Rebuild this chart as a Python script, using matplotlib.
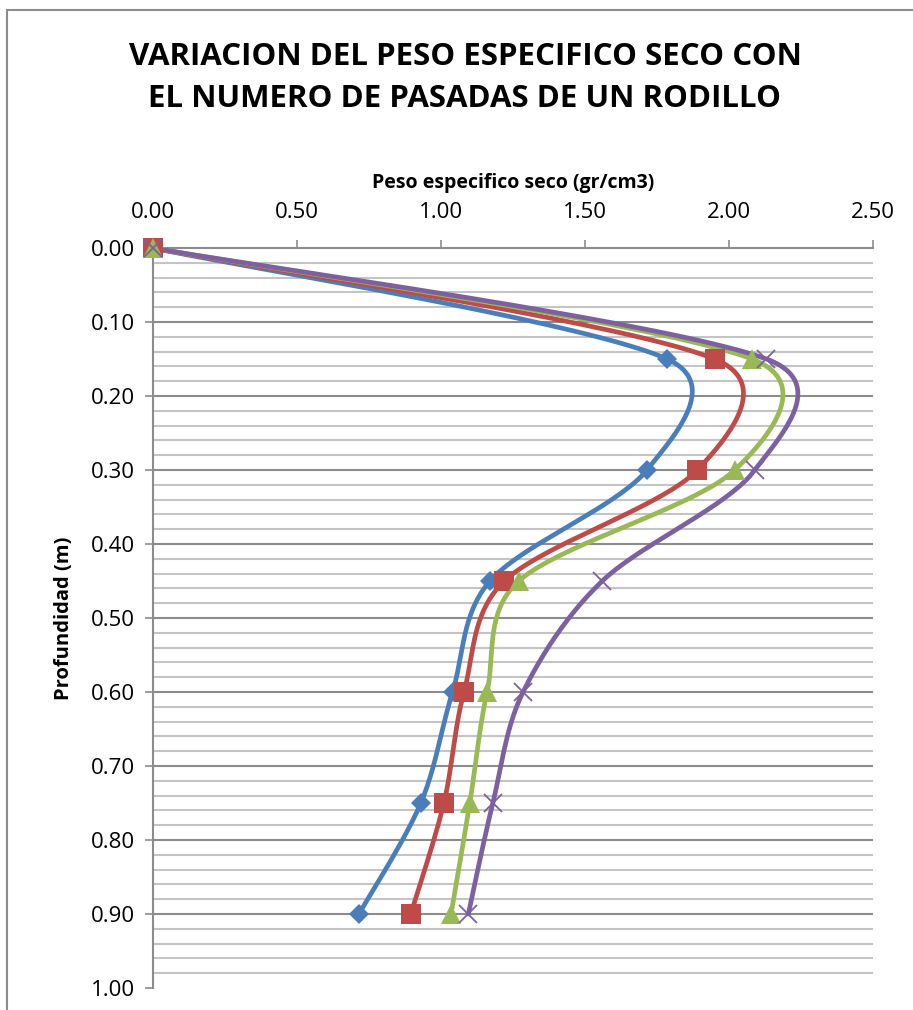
import numpy as np
import matplotlib.pyplot as plt
import matplotlib.patches as patches

# depth (m) and dry unit weight (gr/cm3) per series
profundidad = [0.00, 0.15, 0.30, 0.45, 0.60, 0.75, 0.90]
serie_1 = [0.00, 1.785, 1.715, 1.17, 1.04, 0.93, 0.715]
serie_2 = [0.00, 1.95, 1.89, 1.22, 1.08, 1.01, 0.895]
serie_3 = [0.00, 2.08, 2.02, 1.27, 1.16, 1.10, 1.035]
serie_4 = [0.00, 2.13, 2.09, 1.56, 1.285, 1.18, 1.095]

x_ticks = [0.0, 0.5, 1.0, 1.5, 2.0, 2.5]
y_ticks = [0.0, 0.1, 0.2, 0.3, 0.4, 0.5, 0.6, 0.7, 0.8, 0.9, 1.0]

colores = ['#4A7EBB', '#BE4B48', '#98B954', '#7D60A0']
marcadores = ['D', 's', '^', 'x']
tamanos = [10, 14, 14, 13]

plt.rcParams['font.family'] = ['Open Sans', 'DejaVu Sans']

W, H = 913, 1010
fig = plt.figure(figsize=(W / 100, H / 100), dpi=100)
L, R, T, B = 153, 873, 248, 988
ax = fig.add_axes([L / W, 1 - B / H, (R - L) / W, (B - T) / H])

sx = (R - L) / 2.5
sy = (B - T) / 1.0


def suavizar(xs, ys, n=40):
    # bezier smoothing in pixel space, tangents partly weighted by segment length
    p = np.column_stack([np.array(xs) * sx, np.array(ys) * sy])
    out = []
    for i in range(len(p) - 1):
        p0 = p[i - 1] if i > 0 else p[i]
        p1 = p[i]
        p2 = p[i + 1]
        p3 = p[i + 2] if i + 2 < len(p) else p[i + 1]
        d01 = np.hypot(*(p1 - p0))
        d12 = np.hypot(*(p2 - p1))
        d23 = np.hypot(*(p3 - p2))
        f1 = 0.5 / 6 + 0.5 * min(1 / 6, d12 / (d01 + d12) / 3)
        f2 = 0.5 / 6 + 0.5 * min(1 / 6, d12 / (d12 + d23) / 3)
        c1 = p1 + (p2 - p0) * f1
        c2 = p2 - (p3 - p1) * f2
        t = np.linspace(0, 1, n)[:, None]
        seg = (1 - t) ** 3 * p1 + 3 * (1 - t) ** 2 * t * c1 + 3 * (1 - t) * t ** 2 * c2 + t ** 3 * p2
        out.append(seg if i == 0 else seg[1:])
    out = np.vstack(out)
    return out[:, 0] / sx, out[:, 1] / sy


for serie, c, m, ms in zip([serie_1, serie_2, serie_3, serie_4], colores, marcadores, tamanos):
    xs, ys = suavizar(serie, profundidad)
    ax.plot(xs, ys, color=c, lw=3.4, solid_capstyle='round', zorder=3)
    ax.plot(serie, profundidad, ls='none', marker=m, color=c, ms=ms,
            mew=1.3 if m == 'x' else 0, zorder=4, clip_on=False)

ax.set_xlim(0, 2.5)
ax.set_ylim(1.0, 0.0)

# horizontal grid: minor every 0.02, major every 0.10
for yv in np.arange(0.02, 1.0, 0.02):
    major = abs(yv * 10 - round(yv * 10)) < 1e-6
    ax.axhline(yv, color='#8c8c8c' if major else '#c4c4c4', lw=1.5, zorder=1)

ax.xaxis.tick_top()
ax.xaxis.set_label_position('top')
ax.set_xticks(x_ticks)
ax.set_xticklabels([f'{v:.2f}' for v in x_ticks], fontsize=16)
ax.set_yticks(y_ticks)
ax.set_yticklabels([f'{v:.2f}' for v in y_ticks], fontsize=16)
ax.tick_params(axis='x', length=6, width=1.2, color='#8c8c8c', direction='out', pad=12)
ax.tick_params(axis='y', length=6, width=1.2, color='#8c8c8c', direction='out', pad=7)

for s in ['right', 'bottom']:
    ax.spines[s].set_visible(False)
for s in ['top', 'left']:
    ax.spines[s].set_color('#8c8c8c')
    ax.spines[s].set_linewidth(1.5)

ax.set_xlabel('Peso especifico seco (gr/cm3)', fontsize=14, fontweight='bold', labelpad=10)
ax.set_ylabel('Profundidad (m)', fontsize=14.5, fontweight='bold', labelpad=12)

fig.text(465 / W, 1 - 78 / H, 'VARIACION DEL PESO ESPECIFICO SECO CON\nEL NUMERO DE PASADAS DE UN RODILLO',
         ha='center', va='center', fontsize=22.5, fontweight='bold', linespacing=1.55)

# outer chart border
borde = patches.Rectangle((7 / W, -0.05), 1.2, 1 - 10 / H + 0.05, transform=fig.transFigure,
                          fill=False, edgecolor='#8c8c8c', lw=1.5, clip_on=False)
fig.patches.append(borde)

fig.savefig('out.png', dpi=100)
